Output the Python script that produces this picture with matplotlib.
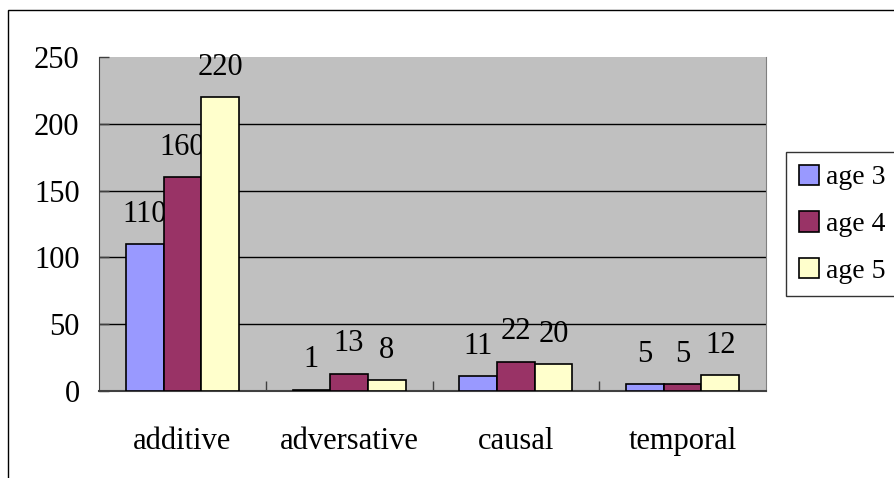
import matplotlib
matplotlib.use("Agg")
import matplotlib.pyplot as plt
import numpy as np
from matplotlib.patches import Rectangle

# data
categories = ["additive", "adversative", "causal", "temporal"]
series = ["age 3", "age 4", "age 5"]
age3 = [110, 1, 11, 5]
age4 = [160, 13, 22, 5]
age5 = [220, 8, 20, 12]
colors = ["#9999FF", "#993366", "#FFFFCC"]

plt.rcParams['font.family'] = ['Liberation Serif', 'DejaVu Serif']
fs = 22

fig = plt.figure(figsize=(8.94, 4.78), dpi=100)
ax = fig.add_axes([99/894, 1-391/478, 667/894, 334/478])
ax.set_facecolor("#C0C0C0")

x = np.arange(len(categories))
w = 0.226
for i, vals in enumerate([age3, age4, age5]):
    pos = x + (i-1)*w
    ax.bar(pos, vals, w, color=colors[i], edgecolor="black", linewidth=1.2,
           label=series[i], zorder=3)
    for p, v in zip(pos, vals):
        ax.annotate(str(v), (p, v), xytext=(0, 11), textcoords="offset points",
                    ha="center", va="bottom", fontsize=fs)

ax.set_xlim(-0.5, 3.5)
ax.set_ylim(0, 250)
ax.set_yticks([0, 50, 100, 150, 200, 250])
for yv in [50, 100, 150, 200]:
    ax.axhline(yv, color="black", linewidth=1, zorder=1)

# category labels between boundary ticks
ax.set_xticks([0.5, 1.5, 2.5], minor=False)
ax.set_xticklabels([])
ax.set_xticks(x, minor=True)
ax.set_xticklabels(categories, minor=True, fontsize=fs)
ax.tick_params(axis="x", which="major", direction="in", length=7, width=1, color="#404040")
ax.tick_params(axis="x", which="minor", length=0, pad=26)
ax.tick_params(axis="y", direction="in", length=7, width=1, color="#404040",
               labelsize=fs, pad=14)

ax.spines["top"].set_visible(False)
ax.spines["right"].set_color("#808080")
ax.spines["left"].set_color("#404040")
ax.spines["bottom"].set_color("#404040")
ax.spines["bottom"].set_linewidth(1.5)

leg = fig.legend(loc="upper left", bbox_to_anchor=(786/894, 1-152/478),
                 fontsize=20, frameon=True, fancybox=False, edgecolor="black",
                 handlelength=0.75, handleheight=0.75, handletextpad=0.25,
                 labelspacing=0.75, borderpad=0.45, borderaxespad=0)
leg.get_frame().set_linewidth(1)

# outer chart border, partly cut off on right and bottom
fig.patches.append(Rectangle((8/894, -0.1), 1.2, 1-10/478+0.1, transform=fig.transFigure,
                             fill=False, edgecolor="black", linewidth=1))

fig.savefig("out.png", dpi=100)
